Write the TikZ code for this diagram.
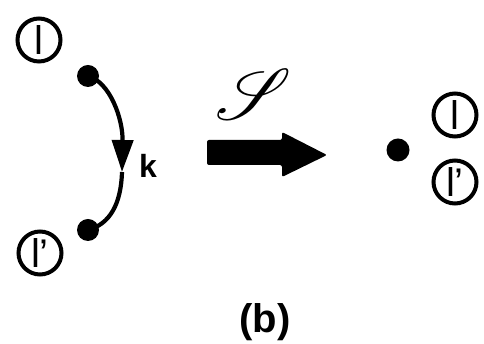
\documentclass[tikz,border=0pt]{standalone}
\usepackage{amsmath,amssymb}
\usepackage{mathrsfs}
\usepackage{fontspec}
\setmainfont{Liberation Sans}
\usepackage{tikz}
\usetikzlibrary{arrows.meta}

\tikzset{
  leg/.style={draw,circle,line width=4pt,minimum size=43pt,inner sep=0pt,font=\fontsize{40}{40}\selectfont},
  dot/.style={fill,circle,minimum size=22pt,inner sep=0pt},
}

\begin{document}
\begin{tikzpicture}[x=1pt,y=1pt,line width=4.2pt]
\useasboundingbox (0,0) rectangle (484,344);
\node[leg] (l1) at (39,304) {l};
\node[leg] (l2) at (40,91) {l\kern-1pt’};
\node[dot] (p) at (88,268) {};
\node[dot] (q) at (88,114) {};
\coordinate (m) at (122,172);
\draw[-{Triangle[length=32pt,width=21pt]}] (p.center) .. controls (110,262) and (123,225) .. (m);
\draw (m) .. controls (121,140) and (110,120) .. (q.center);
\node[font=\fontsize{32}{32}\selectfont\bfseries] (k) at (148,178) {k};
\node[scale=7.2] (s) at (254,250) {$\mathscr{S}$};
\fill[rounded corners=2pt] (207,204)--(282,204)--(282,212)--(327,189)--(282,167)--(282,179)--(207,179)--cycle;
\node[dot,minimum size=23pt] (r) at (398,194) {};
\node[leg] (r1) at (455,229) {l};
\node[leg] (r2) at (455,162) {l\kern-1pt’};
\node[font=\fontsize{40}{40}\selectfont\bfseries] (b) at (265,22) {(b)};
\end{tikzpicture}
\end{document}
